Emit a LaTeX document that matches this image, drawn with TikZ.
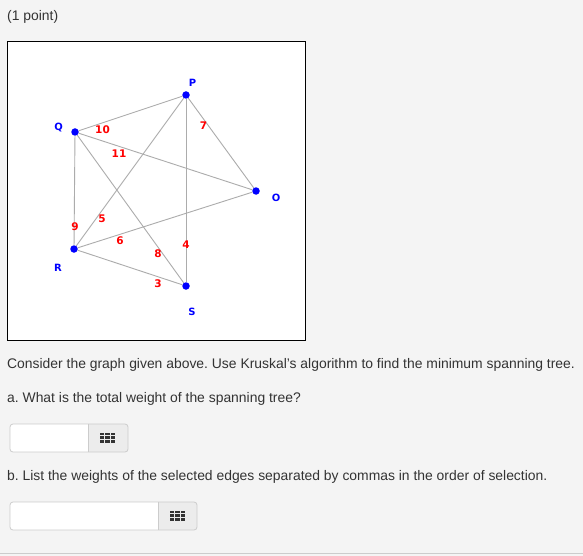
\documentclass[tikz,border=0pt]{standalone}
\usepackage{fontspec}
\setmainfont{Liberation Sans}
\newfontfamily\graphfont{DejaVu Sans}
\definecolor{pagebg}{RGB}{244,244,244}
\definecolor{edgegray}{RGB}{172,172,172}
\definecolor{vblue}{RGB}{0,0,255}
\definecolor{wred}{RGB}{255,0,0}
\definecolor{fieldline}{RGB}{204,204,204}
\definecolor{btnbg}{RGB}{236,236,236}
\definecolor{inktext}{RGB}{51,51,51}
\frenchspacing
\begin{document}
\begin{tikzpicture}[x=1pt,y=-1pt,
    vertex/.style={circle,fill=vblue,inner sep=0pt,minimum size=7.5pt},
    vname/.style={text=vblue,font=\graphfont\fontsize{10}{10}\selectfont\bfseries,inner sep=0pt},
    weight/.style={text=wred,font=\graphfont\fontsize{10.5}{10.5}\selectfont\bfseries,inner sep=0pt},
    link/.style={draw=edgegray,line width=0.9pt},
    prose/.style={anchor=west,text=inktext,font=\fontsize{13.9}{14}\selectfont,inner sep=0pt},
    field/.style={draw=fieldline,line width=0.8pt,rounded corners=3pt}]
    \fill[pagebg] (0,0) rectangle (583,556);
    \useasboundingbox (0,0) rectangle (583,556);
    \draw[fieldline,line width=0.8pt] (0,553.5) -- (583,553.5);
    \node[prose] (points) at (7,17) {(1 point)};
    \draw[fill=white,line width=1pt] (7,41.5) rectangle (305.5,340);
    \node[vertex] (P) at (186,95) {};
    \node[vertex] (Q) at (75,132) {};
    \node[vertex] (O) at (256,191) {};
    \node[vertex] (R) at (74,249) {};
    \node[vertex] (S) at (186,286) {};
    \draw[link] (Q) -- (P);
    \draw[link] (Q) -- (O);
    \draw[link] (P) -- (O);
    \draw[link] (Q) -- (R);
    \draw[link] (P) -- (R);
    \draw[link] (R) -- (O);
    \draw[link] (Q) -- (S);
    \draw[link] (P) -- (S);
    \draw[link] (R) -- (S);
    \node[vname] (Plabel) at (192.5,83) {P};
    \node[vname] (Qlabel) at (58.5,127.5) {Q};
    \node[vname] (Olabel) at (276,198) {O};
    \node[vname] (Rlabel) at (58,268) {R};
    \node[vname] (Slabel) at (192,312) {S};
    \node[weight] (w10) at (102.5,130) {10};
    \node[weight] (w11) at (119,153.5) {11};
    \node[weight] (w7) at (203.5,126) {7};
    \node[weight] (w9) at (75,226.5) {9};
    \node[weight] (w5) at (102,218.5) {5};
    \node[weight] (w6) at (120,241) {6};
    \node[weight] (w8) at (158,254) {8};
    \node[weight] (w4) at (186,245) {4};
    \node[weight] (w3) at (158,284) {3};
    \node[prose] (consider) at (7,365) {Consider the graph given above. Use Kruskal's algorithm to find the minimum spanning tree.};
    \node[prose] (parta) at (7,399) {a. What is the total weight of the spanning tree?};
    \fill[white,rounded corners=3pt] (10,424) rectangle (128,452);
    \fill[btnbg] (88,424) [rounded corners=3pt] -- (128,424) -- (128,452) [sharp corners] -- (88,452) -- cycle;
    \draw[field] (10,424) rectangle (128,452);
    \draw[fieldline,line width=0.8pt] (88,424) -- (88,452);
    \foreach \i in {0,1,2}
        \foreach \j in {0,1,2}
            \fill[inktext] (100+\i*5.3,432.5+\j*3.6) rectangle ++(4.2,2.8);
    \node[prose] (partb) at (7,477) {b. List the weights of the selected edges separated by commas in the order of selection.};
    \fill[white,rounded corners=3pt] (10,502) rectangle (197,530);
    \fill[btnbg] (158,502) [rounded corners=3pt] -- (197,502) -- (197,530) [sharp corners] -- (158,530) -- cycle;
    \draw[field] (10,502) rectangle (197,530);
    \draw[fieldline,line width=0.8pt] (158,502) -- (158,530);
    \foreach \i in {0,1,2}
        \foreach \j in {0,1,2}
            \fill[inktext] (170+\i*5.3,510.5+\j*3.6) rectangle ++(4.2,2.8);
\end{tikzpicture}
\end{document}
